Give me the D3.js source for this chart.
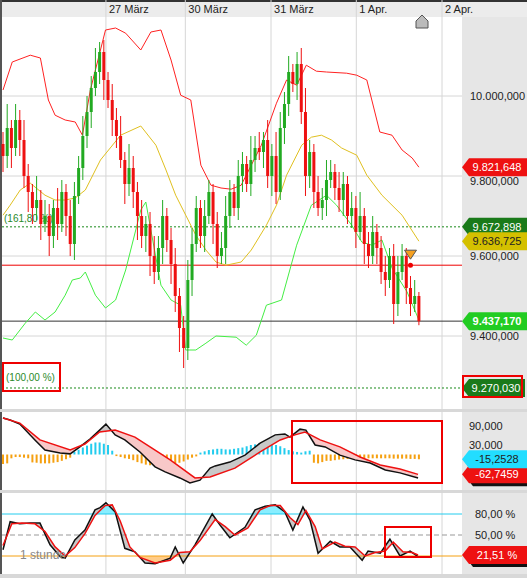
<!DOCTYPE html>
<html><head><meta charset="utf-8">
<script src="https://cdn.jsdelivr.net/npm/d3@7"></script>
<style>body{margin:0;background:#fff}svg{display:block;font-family:"Liberation Sans",Arial,sans-serif}</style>
</head><body><svg id="c" width="527" height="578"></svg>
<script>
const dayLabels=["27 März","30 März","31 März","1 Apr.","2 Apr."];
const dayIdx=[24.5,43.4,63.8,84.1,104.5];
const closes=[9850,9920,9870,9940,9890,9800,9760,9720,9740,9680,
9700,9650,9720,9680,9760,9700,9630,9750,9820,9900,
9960,10020,10060,10110,10040,9990,9940,9900,9840,9780,
9820,9760,9700,9650,9680,9600,9560,9620,9700,9640,
9580,9500,9420,9370,9540,9630,9720,9650,9700,9760,
9680,9600,9620,9700,9760,9720,9800,9830,9780,9840,
9870,9860,9890,9800,9850,9760,9920,9980,10060,10030,
10080,9960,9800,9860,9760,9720,9740,9790,9810,9770,
9740,9780,9700,9720,9660,9700,9630,9600,9660,9620,
9560,9540,9600,9480,9560,9600,9520,9480,9500,9437];
const wickUp=[30,60,20,40,25,50,30,20,60,25,40,30,20,50,30,20,40,35,30,50,
40,30,60,25,30,20,40,30,50,20,60,30,25,40,20,30,50,30,40,20,
30,40,20,30,50,40,30,20,40,30,20,30,40,50,30,20,40,30,20,60,
30,40,20,50,30,60,40,30,40,20,30,40,60,30,20,40,30,50,30,20,
40,30,20,40,30,60,20,30,40,20,30,40,20,30,40,30,20,30,40,10];
const wickDn=[40,30,50,20,40,30,50,40,30,40,20,50,30,40,20,50,30,40,20,30,
30,40,20,30,50,20,40,30,20,50,30,40,60,30,40,50,30,20,40,30,
50,40,60,50,30,40,20,30,40,20,50,30,20,40,30,20,30,40,20,30,
30,20,40,30,50,30,20,40,30,20,40,30,50,30,40,20,30,40,20,30,
30,40,20,30,40,20,50,30,20,40,30,40,20,50,30,20,40,30,20,10];
const upperBB=[[0,10015],[2.2,10085],[6.5,10102],[8.9,10095],[10.8,9990],[12.4,9952],[14.8,9940],[17.2,9935],[18.9,9902],[20.8,10015],[24.4,10165],[26.8,10170],[29.2,10157],[32.8,10115],[35.2,10160],[37.6,10165],[40,10090],[42.3,10002],[44.7,9990],[47.1,9827],[49.5,9777],[51.9,9770],[54.3,9767],[56.7,9777],[59.1,9827],[61.5,9877],[65.1,9982],[67.5,10040],[69.9,10027],[72.2,10077],[74.6,10062],[77,10060],[81.8,10057],[84.2,10052],[86.6,10040],[89.7,9910],[92.6,9902],[95,9865],[97.4,9845],[99,9822]];
const midBB=[[0,9702],[1.7,9727],[4.1,9765],[6.5,9782],[10,9752],[12.4,9740],[14.8,9740],[17.2,9745],[19.6,9765],[23.2,9840],[28,9902],[32.8,9925],[36.4,9877],[38.8,9815],[41.1,9752],[43.5,9702],[45.9,9652],[48.3,9615],[50.7,9585],[53.1,9577],[56.7,9585],[59.1,9615],[62.7,9677],[65.1,9727],[67.5,9802],[71.1,9877],[73.4,9897],[75.8,9902],[78.2,9890],[80.6,9870],[84.2,9852],[86.6,9802],[90.2,9752],[95,9702],[99,9637]];
const lowerBB=[[0,9395],[2.2,9390],[5.3,9432],[7.7,9460],[10,9440],[12.4,9460],[14.8,9502],[16.5,9540],[18.4,9545],[19.6,9560],[22,9502],[24.4,9470],[26.8,9490],[29.2,9565],[32.8,9715],[34,9735],[35.2,9665],[37.6,9527],[40,9490],[42.3,9477],[43.5,9365],[45.9,9365],[48.3,9382],[50.7,9400],[55.5,9397],[57.9,9377],[60.3,9402],[62.7,9477],[66.3,9490],[69.9,9627],[73.4,9727],[77,9752],[79.4,9727],[83,9677],[85.4,9635],[87.8,9627],[90.2,9640],[92.6,9570],[96.2,9510],[99,9440]];
const macdLine=[[0,115],[1.7,109],[4,96],[7.6,46],[10,14],[13.6,5],[16,2],[18.3,24],[20.7,49],[23,77],[24.5,96],[26.7,62],[29,46],[32.6,8],[36.2,-39],[38.6,-55],[42.1,-74],[44.5,-90],[46.9,-81],[49.3,-43],[50.5,-36],[54,-24],[57.6,-2],[61.2,36],[64.8,62],[67.1,65],[68.3,55],[70.7,80],[72.1,77],[74.3,30],[76.7,24],[80.2,-2],[83.8,-17],[87.4,-27],[91,-49],[94.5,-58],[98.8,-74]];
const signalLine=[[0,115],[4,99],[8.8,46],[16,14],[19.5,33],[23,71],[26.7,77],[31.4,55],[35,24],[39.8,-17],[45.7,-74],[49.3,-71],[55.2,-43],[61.2,8],[66,46],[69.5,62],[71.9,71],[75.5,46],[80.2,24],[85,-8],[89.8,-33],[94.5,-46],[98.8,-62.7]];
const histo=[-30,-28,-12,-8,-8,-10,-12,-25,-26,-28,-28,-28,-26,-24,-20,-15,-10,8,15,22,
28,34,38,38,34,30,12,-5,-8,-12,-14,-18,-24,-28,-32,-34,-34,-32,-32,-30,
-30,-28,-26,-22,-16,-10,-6,6,10,14,16,18,18,16,16,18,20,22,26,30,
32,36,38,38,34,30,26,20,14,10,8,6,10,12,-26,-28,-24,-20,-20,-18,
-16,-15,-14,-14,-13,-13,-12,-12,-12,-12,-12,-12,-12,-13,-13,-13,-13,-14,-14,-15];
const stochK=[[0,29],[1.7,69],[4,66],[6.4,67],[8.8,67],[11.2,36],[13.6,19],[14.8,17],[17.1,43],[19.5,57],[21.9,86],[23.1,89],[24.5,96],[26.7,83],[29,31],[31.4,26],[33.8,10],[36.2,9],[39.8,17],[41,33],[42.9,10],[45.7,36],[49.8,80],[51.7,64],[54,46],[57.6,61],[60,86],[62.4,91],[64.8,93],[67.1,83],[69,57],[71.4,90],[73.1,71],[75,24],[77.9,41],[80.2,33],[82.6,33],[85.5,14],[86.9,27],[89.8,24],[92.1,44],[94.5,20],[96.9,27],[98.8,19]];
const stochD=[[0,35],[2.1,66],[4.5,67],[7.6,66],[10,55],[12.4,33],[14.8,20],[17.1,32],[19.5,52],[21.9,78],[24.3,92],[26,93],[27.9,70],[30.2,33],[32.6,18],[36.2,10],[39.8,14],[42.1,25],[44.5,26],[46.9,42],[50.5,72],[52.9,62],[55.2,50],[58.3,60],[61.2,86],[63.6,92],[66,92],[68.3,75],[70.2,65],[72.1,85],[74.3,62],[76,30],[79,40],[81.4,34],[83.8,33],[86.2,20],[88.6,25],[91,27],[92.9,40],[95.2,26],[97.4,25],[98.8,21.5]];
const priceTicks=[10000,9600,9400];
const macdTicks=[90,30];
const stochTicks=[80,50];

const svg=d3.select("#c");
const PL=2,PR=462;
const x=d3.scaleLinear().domain([0,104.5]).range([3,442]);
const yP=d3.scaleLinear().domain([9270,10000]).range([388,96]);
const yM=d3.scaleLinear().domain([0,90]).range([454.5,426]);
const yS=d3.scaleLinear().domain([0,100]).range([570,500]);
const fmt=v=>d3.format(",.3f")(v).replace(/,/g,"#").replace(".",",").replace(/#/g,".");

svg.append("rect").attr("x",PR).attr("y",0).attr("width",65).attr("height",578).attr("fill","#e6e6e6");
svg.append("rect").attr("x",0).attr("y",0).attr("width",527).attr("height",17).attr("fill","#ececec");
svg.append("rect").attr("x",0).attr("y",0).attr("width",527).attr("height",2).attr("fill","#333");
svg.append("rect").attr("x",0).attr("y",0).attr("width",2).attr("height",578).attr("fill","#555");
svg.append("rect").attr("x",0).attr("y",409).attr("width",527).attr("height",3).attr("fill","#d8d8d8");
svg.append("rect").attr("x",0).attr("y",490).attr("width",527).attr("height",3).attr("fill","#d8d8d8");
svg.append("rect").attr("x",0).attr("y",574).attr("width",527).attr("height",4).attr("fill","#d8d8d8");

const g=svg.append("g");
dayIdx.forEach((d,i)=>{
  g.append("line").attr("x1",x(d)).attr("x2",x(d)).attr("y1",0).attr("y2",574).attr("stroke","#d6d6d6");
  svg.append("text").attr("x",x(d)+3).attr("y",13).attr("font-size",11).attr("fill","#222").text(dayLabels[i]);
});
[10000,9800,9600,9400].forEach(v=>g.append("line").attr("x1",PL).attr("x2",PR).attr("y1",yP(v)).attr("y2",yP(v)).attr("stroke","#d6d6d6"));
priceTicks.forEach(v=>svg.append("text").attr("x",470).attr("y",yP(v)+4).attr("font-size",11).attr("fill","#222").text(fmt(v)));
svg.append("text").attr("x",470).attr("y",yP(9800)+9).attr("font-size",11).attr("fill","#222").text(fmt(9800));

[9672.898,9270.03].forEach(v=>svg.append("line").attr("x1",PL).attr("x2",PR).attr("y1",yP(v)).attr("y2",yP(v)).attr("stroke","#1a8a1a").attr("stroke-dasharray","2,2"));
svg.append("text").attr("x",4).attr("y",yP(9672.898)-5).attr("font-size",10).attr("fill","#2a8a2a").text("(161,80 %)");
svg.append("text").attr("x",6).attr("y",yP(9270.03)-7).attr("font-size",10).attr("fill","#2a8a2a").text("(100,00 %)");
svg.append("line").attr("x1",PL).attr("x2",PR).attr("y1",yP(9577)).attr("y2",yP(9577)).attr("stroke","#e00");
svg.append("line").attr("x1",PL).attr("x2",PR).attr("y1",yP(9437.17)).attr("y2",yP(9437.17)).attr("stroke","#333");

const line=(yy)=>d3.line().x(d=>x(d[0])).y(d=>yy(d[1]));
svg.append("path").attr("d",line(yP)(upperBB)).attr("fill","none").attr("stroke","#f22");
svg.append("path").attr("d",line(yP)(midBB)).attr("fill","none").attr("stroke","#e0c020");
svg.append("path").attr("d",line(yP)(lowerBB)).attr("fill","none").attr("stroke","#44ee44");

closes.forEach((c,i)=>{
  const o=i?closes[i-1]:c+30;
  const hi=Math.max(o,c)+wickUp[i],lo=Math.min(o,c)-wickDn[i];
  const col=c>=o?"#22aa22":"#ee1111";
  const cx=x(i);
  svg.append("line").attr("x1",cx).attr("x2",cx).attr("y1",yP(hi)).attr("y2",yP(lo)).attr("stroke",col);
  svg.append("rect").attr("x",cx-1.5).attr("width",3).attr("y",yP(Math.max(o,c))).attr("height",Math.max(1,yP(Math.min(o,c))-yP(Math.max(o,c)))).attr("fill",col);
});
svg.append("path").attr("d",`M${x(97)-6},${yP(9602)-5}h12l-6,9z`).attr("fill","#f5a020").attr("stroke","#555");
svg.append("circle").attr("cx",x(97)).attr("cy",yP(9577)).attr("r",2.5).attr("fill","#e00");
svg.append("path").attr("d","M416,28V21l6,-6l6,6v7z").attr("fill","#bbb").attr("stroke","#555");

function tag(yc,txt,bg,fg,w){
  const gg=svg.append("g");
  gg.append("path").attr("d",`M${PR},${yc}l7,-9h${w}v18h-${w}z`).attr("fill",bg);
  gg.append("text").attr("x",PR+8+w/2-2).attr("y",yc+4).attr("text-anchor","middle").attr("font-size",11).attr("font-weight",bg=="#22cc22"?"bold":"normal").attr("fill",fg).text(txt);
}
tag(yP(9821.648),"9.821,648","#ee1111","#fff",58);
tag(yP(9672.898),"9.672,898","#1a7a1a","#fff",58);
tag(yP(9636.725),"9.636,725","#d4c000","#222",58);
tag(yP(9437.17),"9.437,170","#22cc22","#fff",58);
tag(yP(9270.03),"9.270,030","#1a7a1a","#fff",56);
svg.append("rect").attr("x",463).attr("y",376).attr("width",59).attr("height",21).attr("fill","none").attr("stroke","#e00").attr("stroke-width",2);
svg.append("rect").attr("x",3).attr("y",363).attr("width",57).attr("height",28).attr("fill","none").attr("stroke","#e00").attr("stroke-width",2);

histo.forEach((h,i)=>svg.append("rect").attr("x",x(i)-1).attr("width",2).attr("y",Math.min(yM(0),yM(h))).attr("height",Math.abs(yM(h)-yM(0))).attr("fill",h>=0?"#22ccee":"#f5a010"));
const interp=(arr)=>{const xs=arr.map(d=>d[0]),ys=arr.map(d=>d[1]);return t=>{let j=d3.bisectRight(xs,t)-1;j=Math.max(0,Math.min(j,xs.length-2));const f=(t-xs[j])/(xs[j+1]-xs[j]);return ys[j]+(ys[j+1]-ys[j])*Math.max(0,Math.min(1,f));};};
const ts=d3.range(0,98.81,0.25);
function between(A,B,yy,colUp,colDn,id){
  const fa=interp(A),fb=interp(B);
  const data=ts.map(t=>[t,fa(t),fb(t)]);
  const defs=svg.append("defs");
  defs.append("clipPath").attr("id",id+"a").append("path").attr("d",d3.area().x(d=>x(d[0])).y0(0).y1(d=>yy(d[2]))(data));
  defs.append("clipPath").attr("id",id+"b").append("path").attr("d",d3.area().x(d=>x(d[0])).y0(600).y1(d=>yy(d[2]))(data));
  const ar=d3.area().x(d=>x(d[0])).y0(d=>yy(d[1])).y1(d=>yy(d[2]))(data);
  svg.append("path").attr("d",ar).attr("fill",colUp).attr("clip-path",`url(#${id}a)`);
  svg.append("path").attr("d",ar).attr("fill",colDn).attr("clip-path",`url(#${id}b)`);
}
between(macdLine,signalLine,yM,"#c8c8c8","#f8c8c8","m");
svg.append("path").attr("d",line(yM)(macdLine)).attr("fill","none").attr("stroke","#111").attr("stroke-width",1.5);
svg.append("path").attr("d",line(yM)(signalLine)).attr("fill","none").attr("stroke","#ee1111").attr("stroke-width",1.5);
macdTicks.forEach(v=>svg.append("text").attr("x",469).attr("y",yM(v)+4).attr("font-size",11).attr("fill","#222").text(d3.format(".3f")(v).replace(".",",")));
svg.append("path").attr("d",`M${PR+4},${yM(-62.7459)+3}l7,-9h55v18h-55z`).attr("fill","#111");
tag(yM(-62.7459),"-62,7459","#ee1111","#fff",58);
tag(yM(-15.2528),"-15,2528","#22ddff","#222",58);
svg.append("rect").attr("x",292).attr("y",421).attr("width",150).attr("height",62).attr("fill","none").attr("stroke","#e00").attr("stroke-width",2);

const fk=interp(stochK);
const sd=ts.map(t=>[t,fk(t)]);
svg.append("path").attr("d",d3.area().x(d=>x(d[0])).y0(yS(80)).y1(d=>yS(Math.max(80,d[1])))(sd)).attr("fill","#88eeff");
svg.append("path").attr("d",d3.area().x(d=>x(d[0])).y0(yS(20)).y1(d=>yS(Math.min(20,d[1])))(sd)).attr("fill","#ffcc88");
between(stochK,stochD,yS,"#c8c8c8","#c8c8c8","s");
svg.append("line").attr("x1",PL).attr("x2",PR).attr("y1",yS(80)).attr("y2",yS(80)).attr("stroke","#22ccee");
svg.append("line").attr("x1",PL).attr("x2",PR).attr("y1",yS(50)).attr("y2",yS(50)).attr("stroke","#999").attr("stroke-dasharray","5,3");
svg.append("line").attr("x1",PL).attr("x2",PR).attr("y1",yS(20)).attr("y2",yS(20)).attr("stroke","#f5a010");
svg.append("path").attr("d",line(yS)(stochK)).attr("fill","none").attr("stroke","#111").attr("stroke-width",1.5);
svg.append("path").attr("d",line(yS)(stochD)).attr("fill","none").attr("stroke","#ee1111").attr("stroke-width",1.5);
stochTicks.forEach(v=>svg.append("text").attr("x",475).attr("y",yS(v)+4).attr("font-size",11).attr("fill","#222").text(d3.format(".2f")(v).replace(".",",")+" %"));
svg.append("path").attr("d",`M${PR+4},${yS(21.51)+3}l7,-9h55v18h-55z`).attr("fill","#111");
tag(yS(21.51),"21,51 %","#ee1111","#fff",58);
svg.append("text").attr("x",20).attr("y",559).attr("font-size",12).attr("fill","#888").text("1 stunde");
svg.append("rect").attr("x",385).attr("y",527).attr("width",46).attr("height",30).attr("fill","none").attr("stroke","#e00").attr("stroke-width",2);
</script></body></html>
